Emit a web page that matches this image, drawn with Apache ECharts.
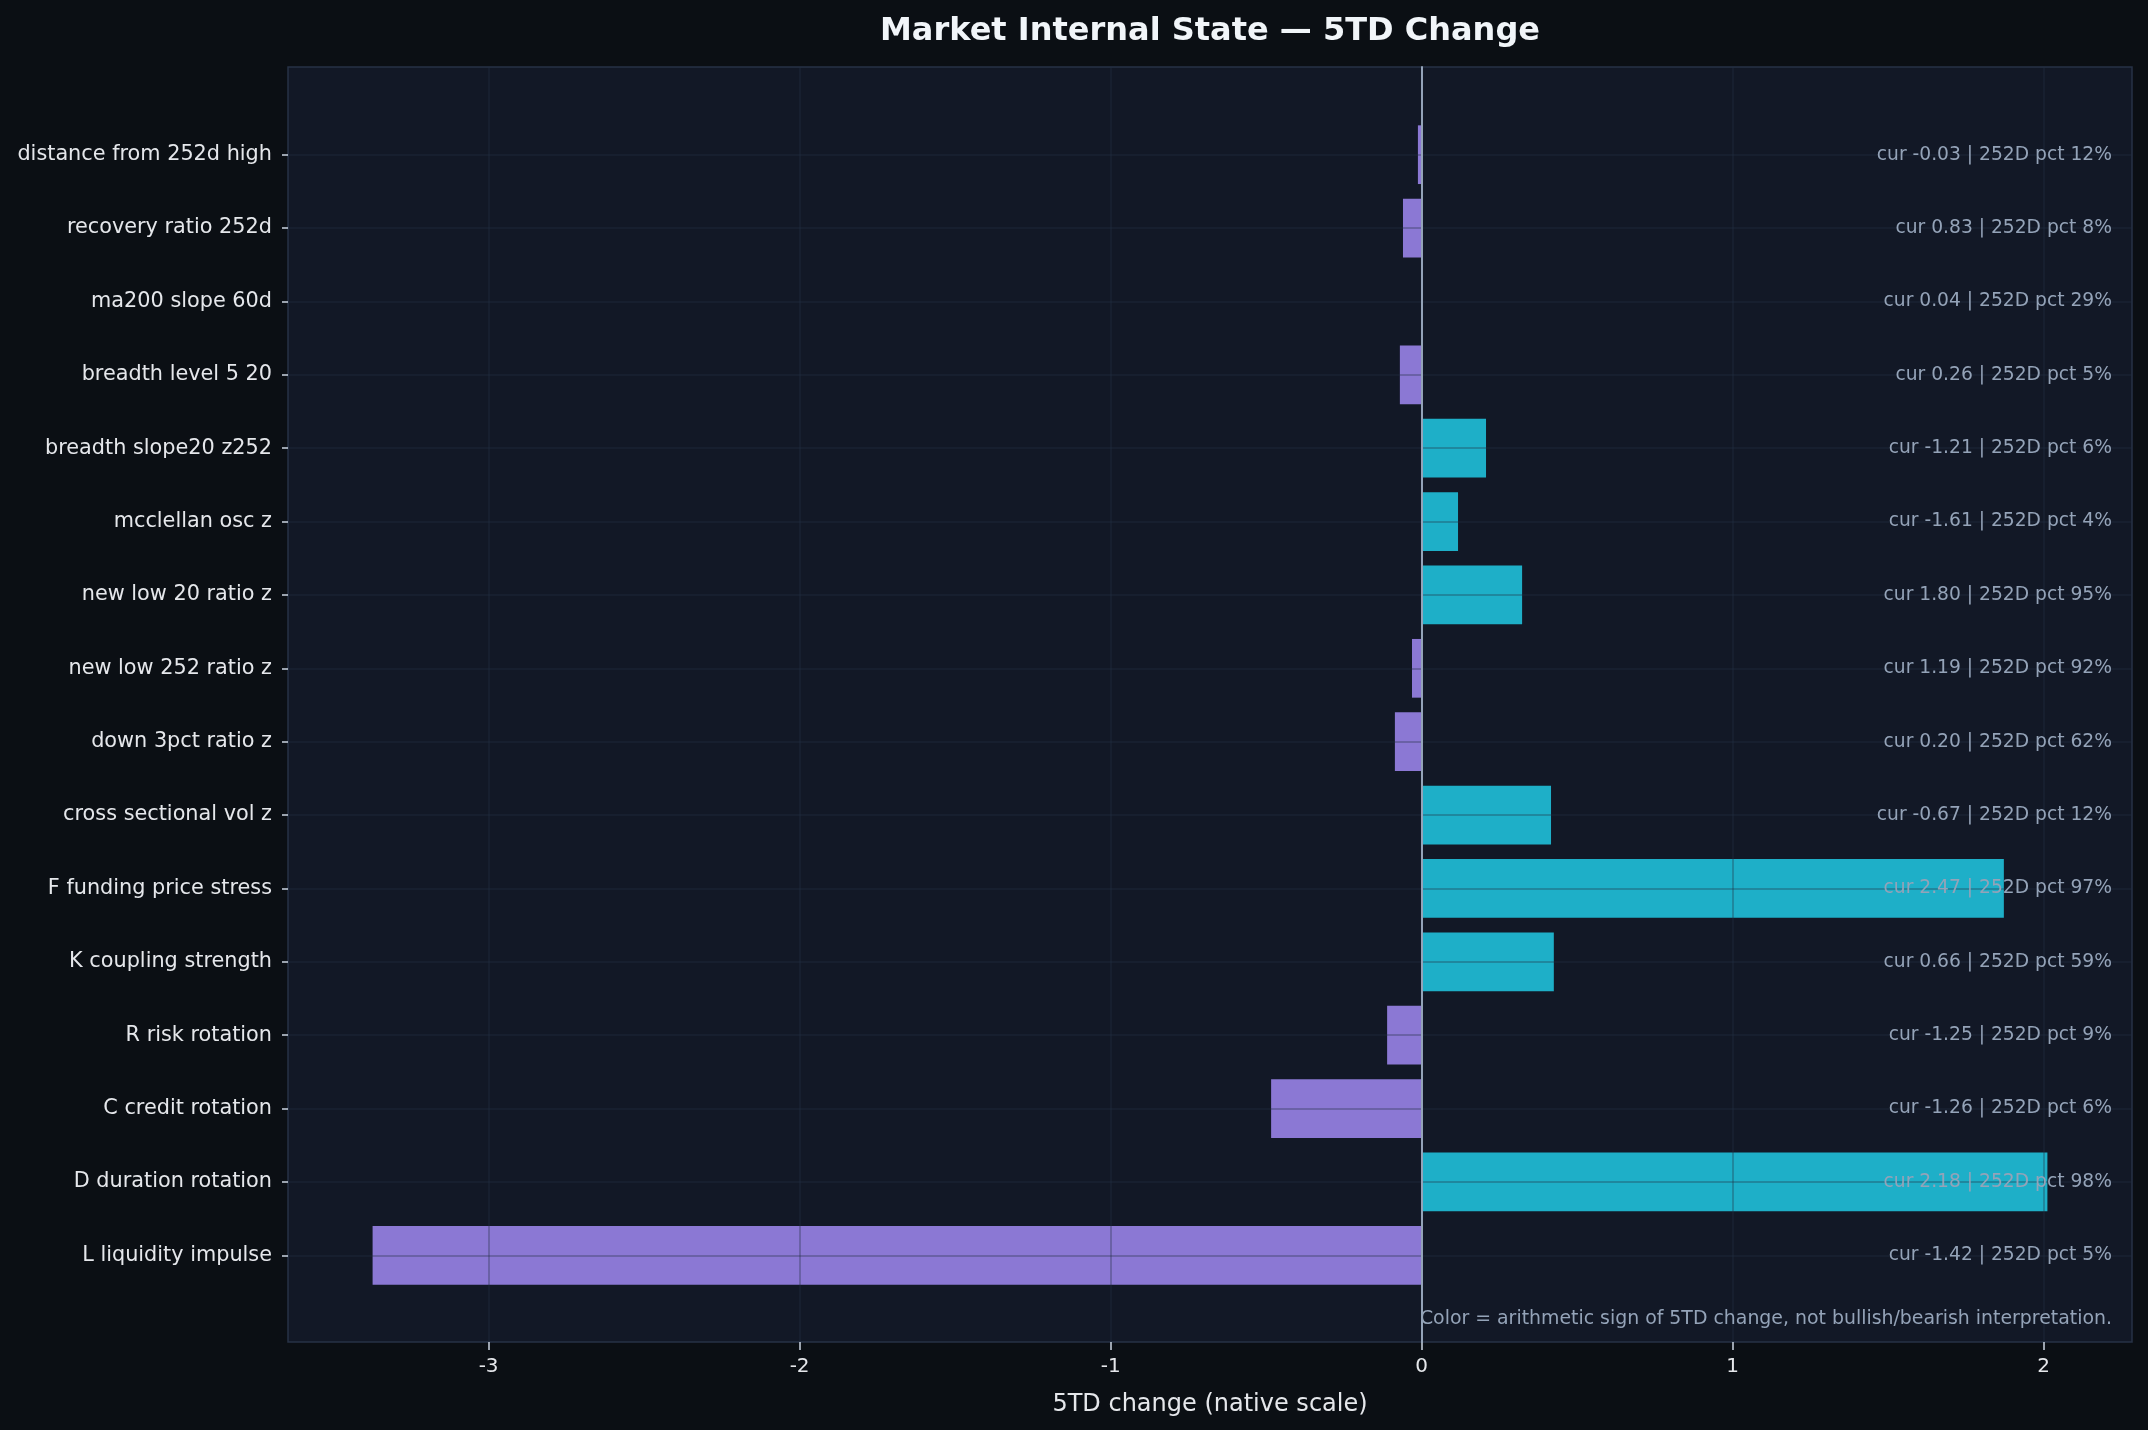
<!DOCTYPE html>
<html>
<head>
<meta charset="utf-8">
<script src="https://cdn.jsdelivr.net/npm/echarts@6/dist/echarts.min.js"></script>
<style>
  html, body { margin: 0; padding: 0; background: #0b0f14; }
  #chart { width: 2148px; height: 1430px; }
</style>
</head>
<body>
<div id="chart"></div>
<script type="text/javascript">
// rows, top to bottom
var categories = [
  'distance from 252d high', 'recovery ratio 252d', 'ma200 slope 60d', 'breadth level 5 20',
  'breadth slope20 z252', 'mcclellan osc z', 'new low 20 ratio z', 'new low 252 ratio z',
  'down 3pct ratio z', 'cross sectional vol z', 'F funding price stress', 'K coupling strength',
  'R risk rotation', 'C credit rotation', 'D duration rotation', 'L liquidity impulse'
];
// 5TD change (bar length)
var changes = [-0.012, -0.060, 0.0, -0.070, 0.207, 0.117, 0.323, -0.031,
               -0.086, 0.416, 1.872, 0.425, -0.111, -0.484, 2.012, -3.373];
// current reading and 252D percentile (right-hand notes)
var curValues = [-0.03, 0.83, 0.04, 0.26, -1.21, -1.61, 1.80, 1.19,
                 0.20, -0.67, 2.47, 0.66, -1.25, -1.26, 2.18, -1.42];
var pctValues = [12, 8, 29, 5, 6, 4, 95, 92, 62, 12, 97, 59, 9, 6, 98, 5];
var xTicks = [-3, -2, -1, 0, 1, 2];
var xMin = -3.645, xMax = 2.284;

var POS = '#1eafc8', NEG = '#8b78d4';
var GRID = 'rgba(36,48,66,0.42)';
var FONT = 'DejaVu Sans';

var myChart = echarts.init(document.getElementById('chart'));
var option = {
    backgroundColor: '#0b0f14',
    animation: false,
    title: {
        text: 'Market Internal State \u2014 5TD Change',
        left: 1210,
        textAlign: 'center',
        top: 16,
        padding: 0,
        textStyle: { color: '#f1f5f9', fontFamily: FONT, fontWeight: 'bold', fontSize: 32 }
    },
    grid: [
        // frame: background, border, vertical grid lines, zero line, x axis
        { left: 288, right: 16, top: 67, bottom: 88, show: true,
          backgroundColor: '#121826', borderColor: '#273246', borderWidth: 1.5 },
        // bars: category bands lined up with the frame
        { left: 288, right: 16, top: 118, height: 1174 }
    ],
    xAxis: [
        {
            gridIndex: 0, type: 'value', min: xMin, max: xMax, z: 4,
            name: '5TD change (native scale)',
            nameLocation: 'middle', nameGap: 51,
            nameTextStyle: { color: '#e5e7eb', fontFamily: FONT, fontSize: 24 },
            axisLine: { show: false },
            axisTick: { show: true, length: 8, customValues: xTicks,
                        lineStyle: { color: '#cbd5e1', width: 1.5 } },
            axisLabel: { color: '#e5e7eb', fontFamily: FONT, fontSize: 20, margin: 15,
                         customValues: xTicks },
            splitLine: { show: true, lineStyle: { color: GRID, width: 1.5 } }
        },
        { gridIndex: 1, type: 'value', min: xMin, max: xMax, show: false }
    ],
    yAxis: [
        {
            gridIndex: 0, type: 'value', min: 0, max: 1, z: 6,
            axisLine: { show: true, onZero: true, lineStyle: { color: '#94a3b8', width: 2 } },
            axisTick: { show: false }, axisLabel: { show: false }, splitLine: { show: false }
        },
        {
            gridIndex: 1, type: 'category', data: categories, inverse: true,
            axisLine: { show: false, onZero: false },
            axisTick: { show: true, alignWithLabel: true, length: 6,
                        lineStyle: { color: '#cbd5e1', width: 1.5 } },
            axisLabel: { color: '#e5e7eb', fontFamily: FONT, fontSize: 20.8, margin: 16,
                         padding: [4, 0, 0, 0] },
            splitLine: { show: false }
        }
    ],
    series: [
        {
            type: 'bar',
            xAxisIndex: 1, yAxisIndex: 1,
            barWidth: '80%',
            data: changes,
            itemStyle: {
                color: function (p) { return p.value >= 0 ? POS : NEG; }
            },
            markLine: {
                silent: true, symbol: 'none', z: 5,
                label: { show: false },
                lineStyle: { color: GRID, width: 1.5, type: 'solid' },
                data: categories.map(function (c) { return { yAxis: c }; })
            }
        },
        {
            type: 'custom',
            xAxisIndex: 1, yAxisIndex: 1, z: 10, silent: true,
            data: categories.map(function (c, i) { return [0, i]; }),
            encode: { x: 0, y: 1 },
            renderItem: function (params, api) {
                var i = api.value(1);
                var pt = api.coord([0, i]);
                var cs = params.coordSys;
                var cur = curValues[i].toFixed(2);
                return {
                    type: 'text',
                    x: cs.x + cs.width - 20,
                    y: pt[1],
                    style: {
                        text: 'cur ' + cur + ' | 252D pct ' + pctValues[i] + '%',
                        fill: '#94a3b8',
                        font: '18.7px "' + FONT + '"',
                        align: 'right',
                        verticalAlign: 'middle'
                    }
                };
            }
        }
    ],
    graphic: [
        {
            type: 'text', right: 36, top: 1310, z: 10,
            style: {
                text: 'Color = arithmetic sign of 5TD change, not bullish/bearish interpretation.',
                fill: '#94a3b8',
                font: '18.9px "' + FONT + '"'
            }
        }
    ]
};
myChart.setOption(option);
</script>
</body>
</html>
